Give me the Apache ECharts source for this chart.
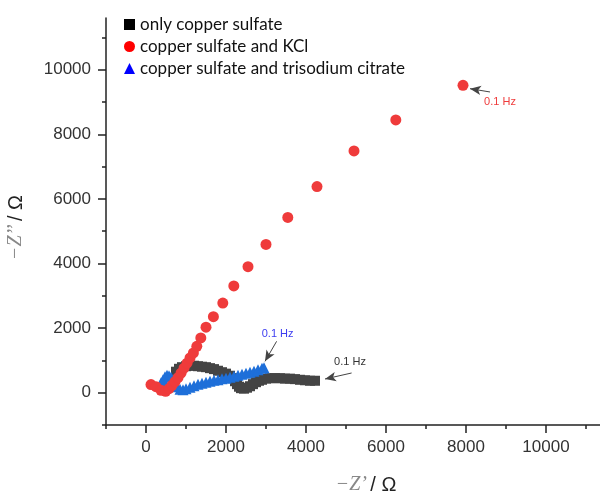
<!DOCTYPE html>
<html>
<head>
<meta charset="utf-8">
<script src="https://cdn.jsdelivr.net/npm/echarts@6/dist/echarts.min.js"></script>
<style>
  html, body { margin: 0; padding: 0; background: #fff; }
  #chart { width: 600px; height: 493px; }
</style>
</head>
<body>
<div id="chart"></div>
<script>
// Nyquist plots: [Z' (Ω), -Z'' (Ω)]
const onlyCuSO4 = [
  [750, 650], [825, 740], [900, 790], [1000, 820], [1100, 835], [1200, 835],
  [1300, 820], [1400, 805], [1500, 790], [1600, 760], [1700, 730], [1800, 680],
  [1900, 635], [2000, 590], [2100, 525], [2175, 450], [2225, 355], [2275, 265],
  [2325, 185], [2375, 140], [2450, 125], [2525, 155], [2600, 200], [2675, 265],
  [2750, 325], [2825, 370], [2900, 400], [3000, 435], [3100, 450], [3225, 450],
  [3350, 450], [3475, 435], [3600, 435], [3725, 420], [3850, 400], [3975, 385],
  [4100, 370], [4225, 370]
];
const cuSO4KCl = [
  [125, 250], [250, 185], [375, 75], [490, 45], [575, 125], [650, 230],
  [725, 340], [800, 465], [875, 605], [950, 760], [1025, 915], [1100, 1075],
  [1185, 1230], [1270, 1435], [1370, 1695], [1500, 2030], [1685, 2355],
  [1920, 2775], [2195, 3305], [2550, 3900], [3000, 4590], [3545, 5425],
  [4275, 6380], [5200, 7485], [6245, 8445], [7925, 9515]
];
const cuSO4Citrate = [
  [375, 310], [425, 400], [475, 495], [525, 540], [575, 525], [625, 480],
  [675, 400], [725, 295], [775, 185], [850, 110], [925, 95], [1000, 125],
  [1100, 170], [1200, 215], [1300, 265], [1400, 295], [1500, 325], [1600, 355],
  [1700, 385], [1800, 400], [1900, 435], [2000, 450], [2100, 480], [2200, 510],
  [2300, 540], [2400, 575], [2500, 605], [2600, 635], [2700, 665], [2800, 710],
  [2900, 760], [2950, 775]
];

// axis ranges and tick values
const xRange = [-1000, 11350];
const yRange = [-1000, 11600];
const majorTicks = [0, 2000, 4000, 6000, 8000, 10000];
const minorTicks = [-1000, 1000, 3000, 5000, 7000, 9000, 11000];

// low-frequency (0.1 Hz) annotations: [label point, arrow tail, arrow tip]
const noteKCl = [[8850, 9010], [8600, 9310], [8100, 9412]];
const noteOnly = [[5100, 960], [5140, 610], [4475, 424]];
const noteCitrate = [[3290, 1830], [3265, 1590], [2975, 970]];

const seriesNames = ['only copper sulfate', 'copper sulfate and KCl', 'copper sulfate and trisodium citrate'];

const chart = echarts.init(document.getElementById('chart'), null, { renderer: 'canvas' });

function note(points, color) {
  return {
    markPoint: {
      silent: true,
      symbol: 'circle',
      symbolSize: 1,
      itemStyle: { color: 'rgba(0,0,0,0)' },
      label: {
        show: true, position: 'inside', formatter: '0.1 Hz',
        fontFamily: 'Liberation Sans', fontSize: 11, color: color
      },
      data: [{ coord: points[0] }]
    },
    markLine: {
      silent: true,
      symbol: ['none', 'arrow'],
      symbolSize: [1, 10],
      itemStyle: { color: '#111' },
      lineStyle: { color: '#444', width: 1, type: 'solid', opacity: 1 },
      label: { show: false },
      emphasis: { disabled: true },
      data: [[
        { coord: points[1], symbol: 'none' },
        { coord: points[2], symbol: 'arrow', symbolSize: [7, 11], itemStyle: { color: '#111' } }
      ]]
    }
  };
}

const axisFont = { fontFamily: 'Liberation Sans', fontSize: 17, color: '#333' };
const plain = v => String(v);

const option = {
  animation: false,
  backgroundColor: '#fff',
  textStyle: { fontFamily: 'Liberation Sans' },
  grid: { left: 106, right: 0, top: 18, bottom: 68, outerBoundsMode: 'none' },
  legend: {
    orient: 'vertical', left: 119, top: 11,
    itemWidth: 11, itemHeight: 11, itemGap: 5,
    selectedMode: false,
    textStyle: { fontFamily: 'Lato', fontSize: 17, color: '#111' },
    data: [
      { name: seriesNames[0], icon: 'rect', itemStyle: { color: '#000' } },
      { name: seriesNames[1], icon: 'circle', itemStyle: { color: '#ff0000' } },
      { name: seriesNames[2], icon: 'triangle', itemStyle: { color: '#0000ff' } }
    ]
  },
  xAxis: [{
    type: 'value', min: xRange[0], max: xRange[1], interval: 1000,
    position: 'bottom',
    splitLine: { show: false },
    axisLine: { show: true, onZero: false, lineStyle: { color: '#222', width: 1.5 } },
    axisTick: { show: true, customValues: majorTicks, length: 8, lineStyle: { color: '#222', width: 1.5 } },
    axisLabel: { customValues: majorTicks, margin: 14, formatter: plain, ...axisFont },
    name: '{z|−Z’} {o|/ Ω}',
    nameLocation: 'middle', nameGap: 50,
    nameTextStyle: {
      padding: [0, 0, 0, 26],
      rich: {
        z: { fontFamily: 'Liberation Serif', fontStyle: 'italic', fontSize: 20, color: '#888' },
        o: { fontFamily: 'Liberation Sans', fontSize: 20, color: '#222' }
      }
    }
  }, {
    type: 'value', min: xRange[0], max: xRange[1], interval: 1000,
    position: 'bottom', gridIndex: 0,
    splitLine: { show: false },
    axisLine: { show: false, onZero: false },
    axisTick: { show: true, customValues: minorTicks, length: 4, lineStyle: { color: '#222', width: 1.5 } },
    axisLabel: { show: false }
  }],
  yAxis: [{
    type: 'value', min: yRange[0], max: yRange[1], interval: 1000,
    position: 'left',
    splitLine: { show: false },
    axisLine: { show: true, onZero: false, lineStyle: { color: '#222', width: 1.5 } },
    axisTick: { show: true, customValues: majorTicks, length: 8, lineStyle: { color: '#222', width: 1.5 } },
    axisLabel: { customValues: majorTicks, margin: 15, formatter: plain, ...axisFont },
    name: '{z|−Z’’} {o|/ Ω}',
    nameLocation: 'middle', nameGap: 80,
    nameTextStyle: {
      padding: [0, 12, 0, 0],
      rich: {
        z: { fontFamily: 'Liberation Serif', fontStyle: 'italic', fontSize: 20, color: '#888' },
        o: { fontFamily: 'Liberation Sans', fontSize: 20, color: '#222' }
      }
    }
  }, {
    type: 'value', min: yRange[0], max: yRange[1], interval: 1000,
    position: 'left', gridIndex: 0,
    splitLine: { show: false },
    axisLine: { show: false, onZero: false },
    axisTick: { show: true, customValues: minorTicks, length: 4, lineStyle: { color: '#222', width: 1.5 } },
    axisLabel: { show: false }
  }],
  series: [
    Object.assign({
      name: seriesNames[0], type: 'scatter', z: 2,
      symbol: 'rect', symbolSize: 10,
      itemStyle: { color: '#444444', opacity: 1 },
      data: onlyCuSO4
    }, note(noteOnly, '#333')),
    Object.assign({
      name: seriesNames[1], type: 'scatter', z: 4,
      symbol: 'circle', symbolSize: 11,
      itemStyle: { color: '#ef3b3b', opacity: 1 },
      data: cuSO4KCl
    }, note(noteKCl, '#ef3b3b')),
    Object.assign({
      name: seriesNames[2], type: 'scatter', z: 3,
      symbol: 'triangle', symbolSize: 11,
      itemStyle: { color: '#1e6fd9', opacity: 1 },
      data: cuSO4Citrate
    }, note(noteCitrate, '#3c3cf0'))
  ]
};

chart.setOption(option);
</script>
</body>
</html>
